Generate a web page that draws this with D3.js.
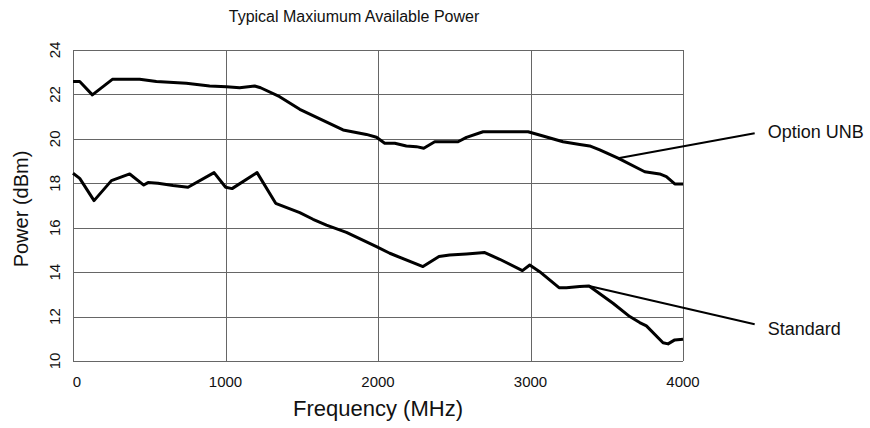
<!DOCTYPE html>
<html>
<head>
<meta charset="utf-8">
<script src="https://cdn.jsdelivr.net/npm/d3@7"></script>
<style>
  body { margin: 0; background: #fff; }
  text { font-family: "Liberation Sans", Arial, sans-serif; fill: #111; }
</style>
</head>
<body>
<svg id="canvas" width="870" height="428"></svg>
<script>
// values: frequency in MHz, power in dBm
let unbFreq = [0, 44, 127, 258, 437, 547, 743, 896, 1006, 1093, 1191, 1230, 1355, 1487, 1771, 1924, 1990, 2044, 2110, 2186, 2252, 2300, 2372, 2525, 2580, 2689, 2984, 3082, 3213, 3323, 3388, 3454, 3574, 3749, 3847, 3891, 3946, 4000]
let unbPower = [22.58, 22.58, 21.98, 22.68, 22.68, 22.58, 22.5, 22.38, 22.35, 22.3, 22.38, 22.3, 21.9, 21.33, 20.4, 20.2, 20.07, 19.8, 19.8, 19.68, 19.65, 19.58, 19.87, 19.87, 20.07, 20.32, 20.32, 20.13, 19.87, 19.75, 19.68, 19.5, 19.13, 18.52, 18.42, 18.3, 17.97, 17.97]

let stdFreq = [0, 44, 138, 252, 372, 464, 492, 557, 656, 754, 925, 1001, 1043, 1207, 1329, 1487, 1574, 1662, 1793, 1990, 2077, 2295, 2400, 2470, 2580, 2700, 2798, 2947, 2995, 3060, 3187, 3235, 3323, 3384, 3541, 3651, 3716, 3760, 3869, 3902, 3946, 4000]
let stdPower = [18.45, 18.22, 17.22, 18.12, 18.42, 17.92, 18.03, 18.0, 17.9, 17.82, 18.48, 17.82, 17.76, 18.48, 17.1, 16.68, 16.38, 16.12, 15.79, 15.15, 14.85, 14.25, 14.7, 14.77, 14.82, 14.88, 14.58, 14.07, 14.32, 14.02, 13.3, 13.3, 13.35, 13.38, 12.6, 12.0, 11.73, 11.58, 10.82, 10.77, 10.95, 10.98]

let xTicks = [0, 1000, 2000, 3000, 4000]
let yTicks = [10, 12, 14, 16, 18, 20, 22, 24]

// callout labels: point on the curve -> text end
let labelNames = ['Option UNB', 'Standard']
let labelFrom = [[3574, 19.13], [3384, 13.38]]
let labelTo = [[4470, 20.25], [4470, 11.65]]

let margin = {top: 50, left: 73, right: 187, bottom: 67}
let width = 870, height = 428

let x = d3.scaleLinear().domain([0, 4000]).range([margin.left, width - margin.right])
let y = d3.scaleLinear().domain([10, 24]).range([height - margin.bottom, margin.top])

let svg = d3.select('#canvas')

// grid
svg.append('g').selectAll('line').data(yTicks).enter().append('line')
  .attr('x1', x(0)).attr('x2', x(4000))
  .attr('y1', d => Math.round(y(d)) + 0.5).attr('y2', d => Math.round(y(d)) + 0.5)
  .attr('stroke', '#666').attr('stroke-width', 1)

svg.append('g').selectAll('line').data(xTicks).enter().append('line')
  .attr('x1', d => Math.round(x(d)) + 0.5).attr('x2', d => Math.round(x(d)) + 0.5)
  .attr('y1', y(24)).attr('y2', y(10))
  .attr('stroke', '#666').attr('stroke-width', 1)

// tick labels
svg.append('g').selectAll('text').data(xTicks).enter().append('text')
  .attr('x', d => x(d) + (d === 0 ? 4 : 0))
  .attr('y', y(10) + 26)
  .attr('text-anchor', 'middle')
  .style('font-size', '15px')
  .text(d => d)

svg.append('g').selectAll('text').data(yTicks).enter().append('text')
  .attr('transform', d => 'translate(55,' + y(d) + ') rotate(-90)')
  .attr('dy', '0.35em')
  .attr('text-anchor', 'middle')
  .style('font-size', '15px')
  .text(d => d)

// series
let line = d3.line().x(d => x(d[0])).y(d => y(d[1]))
let series = [d3.zip(unbFreq, unbPower), d3.zip(stdFreq, stdPower)]

svg.append('g').selectAll('path').data(series).enter().append('path')
  .attr('d', line)
  .attr('fill', 'none')
  .attr('stroke', '#000')
  .attr('stroke-width', 3)
  .attr('stroke-linejoin', 'round')

// callouts
svg.append('g').selectAll('line').data(labelNames).enter().append('line')
  .attr('x1', (d, i) => x(labelFrom[i][0])).attr('y1', (d, i) => y(labelFrom[i][1]))
  .attr('x2', (d, i) => x(labelTo[i][0])).attr('y2', (d, i) => y(labelTo[i][1]))
  .attr('stroke', '#000').attr('stroke-width', 2)

svg.append('g').selectAll('text').data(labelNames).enter().append('text')
  .attr('x', (d, i) => x(labelTo[i][0]) + 13)
  .attr('y', (d, i) => y(labelTo[i][1]) + (i === 0 ? 5 : 11))
  .style('font-size', '18px')
  .text(d => d)

// titles
svg.append('text')
  .attr('x', 354).attr('y', 22)
  .attr('text-anchor', 'middle')
  .style('font-size', '16px')
  .text('Typical Maxiumum Available Power')

svg.append('text')
  .attr('x', 378).attr('y', 416)
  .attr('text-anchor', 'middle')
  .style('font-size', '22px')
  .text('Frequency (MHz)')

svg.append('text')
  .attr('transform', 'translate(28,209) rotate(-90)')
  .attr('text-anchor', 'middle')
  .style('font-size', '20px')
  .text('Power (dBm)')
</script>
</body>
</html>
